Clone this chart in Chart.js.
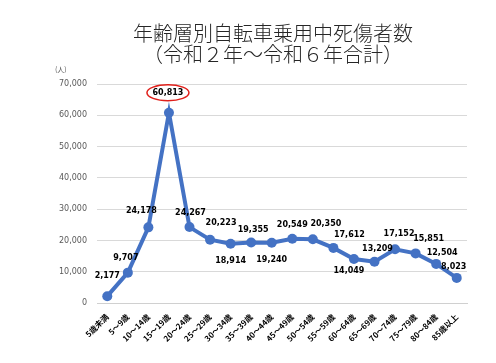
<!DOCTYPE html>
<html>
<head>
<meta charset="utf-8">
<script src="https://cdn.jsdelivr.net/npm/chart.js@4.4.1/dist/chart.umd.min.js"></script>
<style>
html,body{margin:0;padding:0;background:#fff;}
#wrap{width:496px;height:363px;position:relative;}
</style>
</head>
<body>
<div id="wrap"><canvas id="c" width="496" height="363"></canvas></div>
<script>
const titleLines = ["年齢層別自転車乗用中死傷者数", "（令和２年～令和６年合計）"];
const unitLabel = "(人)";
const categories = ["5歳未満","5～9歳","10～14歳","15～19歳","20～24歳","25～29歳","30～34歳","35～39歳","40～44歳","45～49歳","50～54歳","55～59歳","60～64歳","65～69歳","70～74歳","75～79歳","80～84歳","85歳以上"];
const casualties = [2177, 9707, 24178, 60813, 24267, 20223, 18914, 19355, 19240, 20549, 20350, 17612, 14049, 13209, 17152, 15851, 12504, 8023];
const yTicks = [0, 10000, 20000, 30000, 40000, 50000, 60000, 70000];
const highlightIndex = 3;
// label placement offsets relative to each point (style only)
const labelOffsets = [[0,-20],[-2,-15],[-7,-16],[-1,-20],[1,-14],[11,-17],[0,17],[2,-13],[0,17],[0,-14],[13,-15],[16,-13],[-5,12],[3,-13],[4,-15],[13,-14],[6,-11],[-3,-11]];

const fmt = v => v.toLocaleString('en-US');

const decorPlugin = {
  id: 'decor',
  afterDraw(chart) {
    const ctx = chart.ctx;
    const area = chart.chartArea;
    ctx.save();
    // title
    ctx.fillStyle = '#262626';
    ctx.font = '300 20px "Noto Sans CJK JP"';
    ctx.textAlign = 'center';
    ctx.textBaseline = 'middle';
    const cx = 273;
    ctx.fillText(titleLines[0], cx, 33);
    ctx.fillText(titleLines[1], cx, 54);
    // unit
    ctx.fillStyle = '#595959';
    ctx.font = '7px "Noto Sans CJK JP"';
    ctx.textAlign = 'left';
    ctx.fillText(unitLabel, 55, area.top - 15);
    // data labels
    const meta = chart.getDatasetMeta(0);
    ctx.font = 'bold 8px "DejaVu Sans"';
    ctx.textAlign = 'center';
    ctx.textBaseline = 'middle';
    meta.data.forEach((pt, i) => {
      const off = labelOffsets[i];
      const x = pt.x + off[0], y = pt.y + off[1];
      ctx.fillStyle = '#000';
      ctx.fillText(fmt(casualties[i]), x, y);
      if (i === highlightIndex) {
        ctx.beginPath();
        ctx.ellipse(x, y, 21, 8, 0, 0, Math.PI * 2);
        ctx.strokeStyle = '#e0201b';
        ctx.lineWidth = 1.5;
        ctx.stroke();
      }
    });
    ctx.restore();
  }
};

new Chart(document.getElementById('c'), {
  type: 'line',
  data: {
    labels: categories,
    datasets: [{
      data: casualties,
      borderColor: '#4472C4',
      backgroundColor: '#4472C4',
      borderWidth: 4,
      pointRadius: 5,
      pointBorderWidth: 0,
      pointBackgroundColor: '#4472C4',
      tension: 0,
      fill: false
    }]
  },
  options: {
    responsive: false,
    animation: false,
    devicePixelRatio: 1,
    layout: { padding: { top: 84, right: 29, left: 0, bottom: 0 } },
    plugins: { legend: { display: false }, title: { display: false }, tooltip: { enabled: false } },
    scales: {
      x: {
        offset: true,
        grid: { display: false, drawTicks: false },
        border: { display: true, color: '#d0d0d0', width: 1 },
        ticks: {
          autoSkip: false, maxRotation: 45, minRotation: 45, padding: 9,
          color: '#000',
          font: { family: '"Noto Sans CJK JP"', size: 8, weight: 'bold' }
        },
        afterFit(s) { s.height = 60; }
      },
      y: {
        min: 0, max: 70000,
        afterBuildTicks(s) { s.ticks = yTicks.map(v => ({ value: v })); },
        grid: { color: '#d9d9d9', lineWidth: 1, drawTicks: false },
        border: { display: false },
        ticks: {
          padding: 10, color: '#595959',
          font: { family: '"DejaVu Sans"', size: 8 },
          callback: v => fmt(v)
        },
        afterFit(s) { s.width = 97; }
      }
    }
  },
  plugins: [decorPlugin]
});
</script>
</body>
</html>
